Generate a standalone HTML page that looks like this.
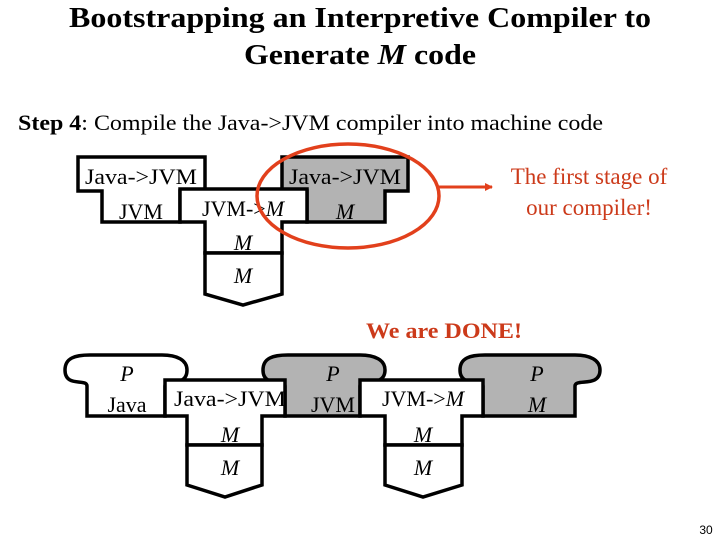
<!DOCTYPE html>
<html><head><meta charset="utf-8"><style>
html,body{margin:0;padding:0;background:#fff;}
svg{display:block;}
text{font-family:"Liberation Serif",serif;}
</style></head><body>
<svg width="720" height="540" viewBox="0 0 720 540" xmlns="http://www.w3.org/2000/svg">
<defs><marker id="ah" markerWidth="8" markerHeight="8" refX="7" refY="4" orient="auto" markerUnits="userSpaceOnUse"><path d="M0,0 L8,4 L0,8 Z" fill="#e2401c"/></marker></defs>
<text x="360" y="27" font-size="29" font-weight="bold" text-anchor="middle" textLength="582" lengthAdjust="spacingAndGlyphs">Bootstrapping an Interpretive Compiler to</text>
<text x="360" y="64" font-size="29" font-weight="bold" text-anchor="middle" textLength="232" lengthAdjust="spacingAndGlyphs">Generate <tspan font-style="italic">M</tspan> code</text>
<text x="18" y="130" font-size="22" textLength="585" lengthAdjust="spacingAndGlyphs"><tspan font-weight="bold">Step 4</tspan>: Compile the Java-&gt;JVM compiler into machine code</text>

<g stroke="#000" stroke-width="3.5" stroke-linejoin="miter">
<path d="M78,157 L205,157 L205,191 L180,191 L180,222 L102,222 L102,191 L78,191 Z" fill="#fff"/>
<path d="M282,157 L408,157 L408,191 L385,191 L385,222 L307,222 L307,191 L282,191 Z" fill="#b3b3b3"/>
<path d="M180,189 L307,189 L307,222 L282,222 L282,253 L205,253 L205,222 L180,222 Z" fill="#fff"/>
<path d="M205,253 L282,253 L282,294 L243,305 L205,294 Z" fill="#fff"/>
<path d="M87,416 L87,386 C87,378 65,388 65,370 C65,358 75,355 90,355 L162,355 C177,355 187,360 187,370 C187,388 165,378 165,386 L165,416 Z" fill="#fff"/>
<path d="M285,416 L285,386 C285,378 263,388 263,370 C263,358 273,355 288,355 L360,355 C375,355 385,360 385,370 C385,388 360,378 360,386 L360,416 Z" fill="#b3b3b3"/>
<path d="M483,416 L483,386 C483,378 460,388 460,370 C460,358 470,355 485,355 L575,355 C590,355 600,360 600,370 C600,388 575,378 575,386 L575,416 Z" fill="#b3b3b3"/>
<path d="M165,380 L285,380 L285,416 L262,416 L262,445 L187,445 L187,416 L165,416 Z" fill="#fff"/>
<path d="M187,445 L262,445 L262,485 L225,497 L187,485 Z" fill="#fff"/>
<path d="M360,380 L483,380 L483,416 L462,416 L462,445 L385,445 L385,416 L360,416 Z" fill="#fff"/>
<path d="M385,445 L462,445 L462,485 L423,497 L385,485 Z" fill="#fff"/>
</g>

<g font-size="22" text-anchor="middle">
<text x="141" y="184" textLength="112" lengthAdjust="spacingAndGlyphs">Java-&gt;JVM</text>
<text x="141" y="219">JVM</text>
<text x="345" y="184" textLength="112" lengthAdjust="spacingAndGlyphs">Java-&gt;JVM</text>
<text x="345" y="219" font-style="italic">M</text>
<text x="243" y="216">JVM-&gt;<tspan font-style="italic">M</tspan></text>
<text x="243" y="250" font-style="italic">M</text>
<text x="243" y="283" font-style="italic">M</text>

<text x="127" y="381" font-style="italic">P</text>
<text x="127" y="412">Java</text>
<text x="230" y="406" textLength="112" lengthAdjust="spacingAndGlyphs">Java-&gt;JVM</text>
<text x="230" y="442" font-style="italic">M</text>
<text x="230" y="475" font-style="italic">M</text>
<text x="333" y="381" font-style="italic">P</text>
<text x="333" y="412">JVM</text>
<text x="423" y="406">JVM-&gt;<tspan font-style="italic">M</tspan></text>
<text x="423" y="442" font-style="italic">M</text>
<text x="423" y="475" font-style="italic">M</text>
<text x="537" y="381" font-style="italic">P</text>
<text x="537" y="412" font-style="italic">M</text>
</g>

<ellipse cx="348" cy="196" rx="91" ry="52" fill="none" stroke="#e2401c" stroke-width="3.5"/>
<line x1="439" y1="187" x2="492" y2="187" stroke="#e2401c" stroke-width="3" marker-end="url(#ah)"/>
<g fill="#cc3a1a" font-size="23" text-anchor="middle">
<text x="589" y="184">The first stage of</text>
<text x="589" y="215">our compiler!</text>
<text x="444" y="338" font-weight="bold" font-size="22" textLength="156" lengthAdjust="spacingAndGlyphs">We are DONE!</text>
</g>
<text x="706" y="534" font-size="12" text-anchor="middle" style="font-family:'Liberation Sans',sans-serif">30</text>
</svg>
</body></html>
